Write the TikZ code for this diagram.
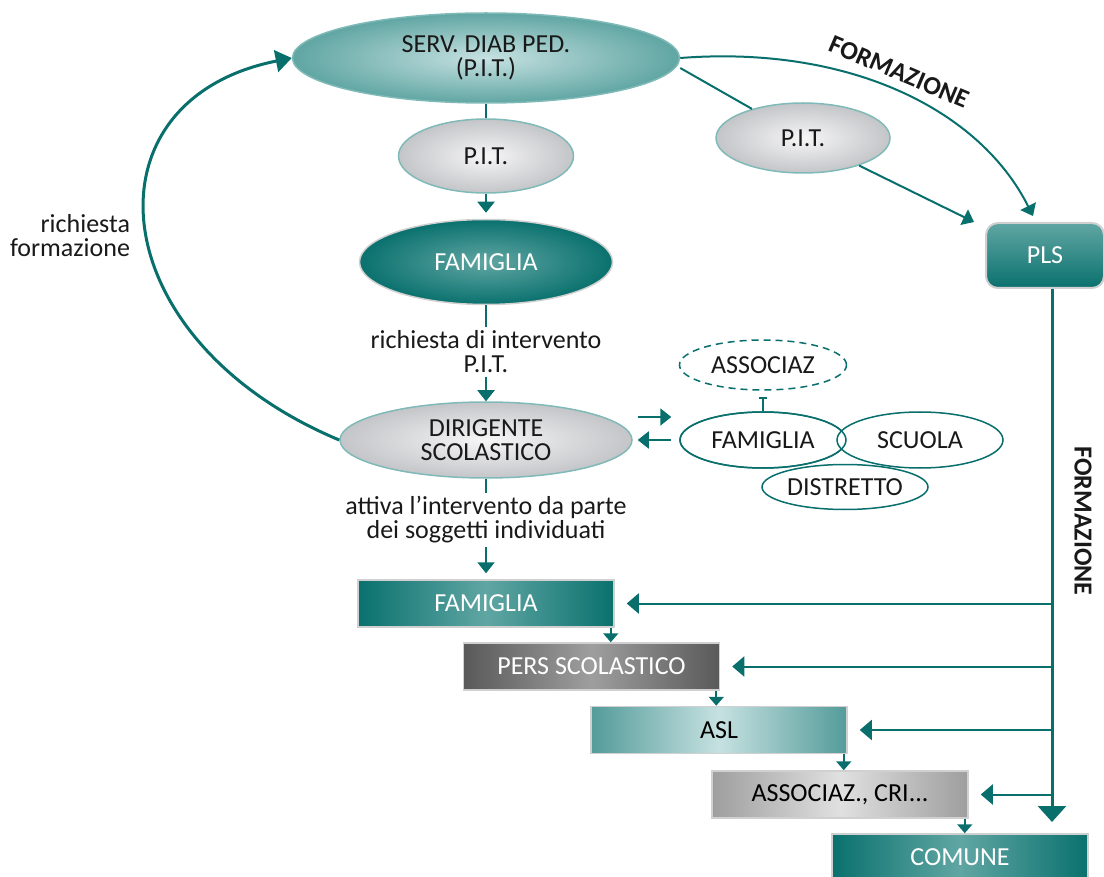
\documentclass[tikz,border=0pt]{standalone}
\usepackage{fontspec}
\setmainfont{Carlito}
\usetikzlibrary{arrows.meta,shapes.geometric,positioning}

\definecolor{pitteal}{RGB}{8,111,108}
\definecolor{tealdark}{RGB}{10,113,110}
\definecolor{tealmid}{RGB}{96,166,163}
\definecolor{tealpale}{RGB}{198,225,225}
\definecolor{tealbord}{RGB}{128,186,184}
\definecolor{grigiochiaro}{RGB}{246,246,247}
\definecolor{grigioscuro}{RGB}{196,197,200}
\definecolor{bordo}{RGB}{208,208,208}

\begin{document}
\begin{tikzpicture}[x=1pt,y=-1pt,
    every node/.style={font=\fontsize{26}{24}\selectfont, text=black!90},
    ovale/.style={ellipse,inner sep=0pt,line width=1.5pt,align=center},
    grigio/.style={ovale,draw=tealbord,shading=radial,inner color=grigiochiaro,outer color=grigioscuro},
    gruppo/.style={ellipse,inner sep=0pt,draw=pitteal,line width=1.5pt,fill=white,minimum width=166pt,minimum height=56pt},
    scatola/.style={rectangle,inner sep=0pt,draw=bordo,line width=1.5pt,minimum width=256pt,minimum height=47pt},
    verde/.style={scatola,left color=tealdark,right color=tealdark,middle color=tealmid,text=white},
    linea/.style={draw=pitteal,line width=2pt},
    freccia/.style={linea,-{Triangle[width=17pt,length=11pt]}},
    ramo/.style={linea,-{Triangle[width=20pt,length=12pt]}},
    grossa/.style={draw=pitteal,line width=3pt,-{Triangle[width=22pt,length=16pt]}}]
  \useasboundingbox (0,0) rectangle (1104,877);

  % colonna centrale
  \begin{scope}
    \node[ovale,draw=tealbord,shading=radial,inner color=tealpale,outer color=tealmid,
      minimum width=387pt,minimum height=90pt] (serv) at (486,58) {SERV. DIAB PED.\\(P.I.T.)};
    \node[grigio,minimum width=175pt,minimum height=74pt] (pit1) at (486,156) {P.I.T.};
    \node[ovale,draw=bordo,shading=radial,inner color=tealmid,outer color=tealdark,text=white,
      minimum width=253pt,minimum height=85pt] (fam1) at (486,262) {FAMIGLIA};
    \node[align=center] (lab1) at (486,352) {richiesta di intervento\\P.I.T.};
    \node[grigio,minimum width=292pt,minimum height=76pt] (dir) at (486,440) {DIRIGENTE\\SCOLASTICO};
    \node[align=center] (lab2) at (486,520) {attiva l’intervento da parte\\dei soggetti individuati};
    \node[grigio,minimum width=174pt,minimum height=70pt] (pit2) at (803,138) {P.I.T.};
    \node[align=right] (richiesta) at (70,236) {richiesta\\formazione};
  \end{scope}

  % gruppo a destra
  \begin{scope}
    \node[ovale,draw=pitteal,dashed,dash pattern=on 7pt off 5pt,fill=white,
      minimum width=167pt,minimum height=50pt] (assoc2) at (763,365) {ASSOCIAZ};
    \node[gruppo,minimum height=45pt] (distr) at (845,487) {DISTRETTO};
    \node[gruppo] (fam2) at (763,440) {FAMIGLIA};
    \node[gruppo] (scuola) at (920,440) {SCUOLA};
    \node[gruppo,fill=none] at (fam2) {\phantom{FAMIGLIA}};
  \end{scope}

  % soggetti
  \begin{scope}
    \node[verde] (famb) at (486,603.5) {FAMIGLIA};
    \node[scatola,left color=black!65,right color=black!65,middle color=black!38,text=white] (pers) at (591.5,666.5) {PERS SCOLASTICO};
    \node[scatola,left color=tealdark!70,right color=tealdark!70,middle color=tealpale,text=black] (asl) at (719,730) {ASL};
    \node[scatola,left color=black!38,right color=black!38,middle color=black!12,text=black] (assoc) at (840,794.5) {ASSOCIAZ., CRI...};
    \node[verde] (comune) at (960,857.5) {COMUNE};
    \node[rectangle,rounded corners=12pt,draw=bordo,line width=2pt,top color=tealmid,bottom color=tealdark,
      text=white,minimum width=118pt,minimum height=65pt] (pls) at (1045,255.5) {PLS};
  \end{scope}

  \coordinate (fondo) at (1052,822);

  % frecce
  \draw[linea] (serv) -- (pit1);
  \draw[freccia,shorten >=6pt] (pit1) -- (fam1);
  \draw[linea] (fam1) -- (lab1);
  \draw[freccia] (lab1) -- (dir);
  \draw[linea] (dir) -- (lab2);
  \draw[freccia,shorten >=6pt] (lab2) -- (famb);
  \foreach \a/\b in {famb/pers,pers/asl,asl/assoc,assoc/comune}
    \draw[linea,-{Triangle[width=15pt,length=9pt]}] ([xshift=-4pt]\a.south east) -- ([xshift=-4pt]\a.south east |- \b.north);

  \draw[grossa] (dir.west) .. controls (100,340) and (80,100) .. (serv.west);
  \draw[linea] ([yshift=-10pt]serv.east) -- (pit2);
  \draw[freccia] (pit2) -- ([xshift=-11pt]pls.north west);
  \draw[freccia] (serv.east) .. controls (850,45) and (980,110) .. ([xshift=-12pt,yshift=6pt]pls.north);
  \node[font=\fontsize{26}{24}\selectfont\bfseries,rotate=-23] (form1) at (899,72) {FORMAZIONE};

  \draw[freccia] ([xshift=5pt,yshift=23pt]dir.east) -- ([xshift=-8pt,yshift=23pt]fam2.west);
  \draw[freccia] ([xshift=-8pt]fam2.west) -- ([xshift=5pt]dir.east);
  \draw[linea,{Bar[width=8pt]}-] ([yshift=-6pt]assoc2.south) -- (fam2.north);

  \draw[linea,line width=3pt,-{Triangle[width=28pt,length=16pt]}] (pls.south -| fondo) -- (fondo);
  \foreach \b in {famb,pers,asl,assoc}
    \draw[ramo] (\b.east -| fondo) -- ([xshift=12pt]\b.east);
  \node[font=\fontsize{26}{24}\selectfont\bfseries,rotate=-90] (form2) at (1083,521) {FORMAZIONE};
\end{tikzpicture}
\end{document}
